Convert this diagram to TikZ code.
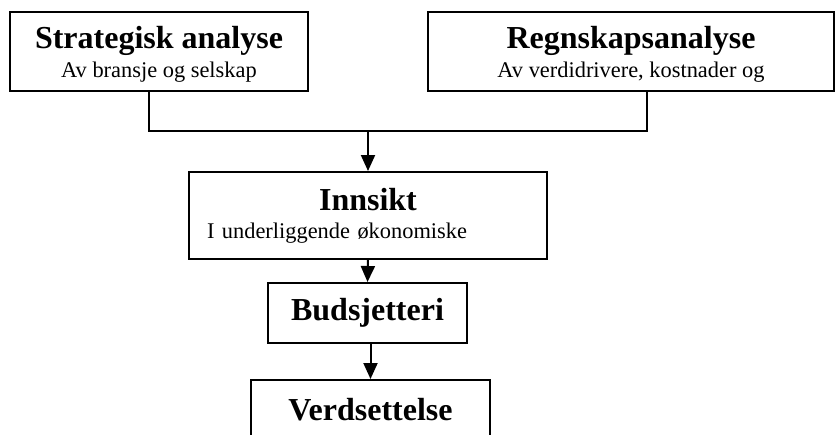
\documentclass[tikz,border=0pt]{standalone}
\usepackage{fontspec}
\setmainfont{Liberation Serif}
\usetikzlibrary{arrows.meta}

\newcommand{\titlefont}{\bfseries\fontsize{32}{28}\selectfont}
\newcommand{\subfont}{\fontsize{22.4}{28}\selectfont}

\begin{document}
\begin{tikzpicture}[x=1pt, y=-1pt, line width=2pt,
    box/.style={draw, inner sep=0pt, align=center, font=\subfont},
    arrow/.style={-{Triangle[length=16pt,width=14pt]}}]
    \clip (0,0) rectangle (835,434);
    \node[box, minimum width=298pt, minimum height=79pt] (strat) at (159,51.5)
        {\rule{0pt}{28pt}{\titlefont Strategisk analyse}\\[1pt]Av bransje og selskap};
    \node[box, minimum width=406pt, minimum height=79pt] (regn) at (631,51.5)
        {\rule{0pt}{28pt}{\titlefont Regnskapsanalyse}\\[1pt]Av verdidrivere, kostnader og};
    \node[box, minimum width=358pt, minimum height=87pt, text width=322pt, align=left] (innsikt) at (368,215.5)
        {\makebox[\linewidth]{\titlefont Innsikt}\\I underliggende økonomiske};
    \node[box, minimum width=199pt, minimum height=60pt] (budsj) at (367.5,313)
        {\titlefont Budsjetteri};
    \node[box, minimum width=239pt, minimum height=60pt] (verd) at (370.5,410)
        {\titlefont Verdsettelse};
    \coordinate (join) at (368,131);
    \draw ([xshift=-10pt]strat.south) |- (join) -| ([xshift=16pt]regn.south);
    \draw[arrow] (join) -- (innsikt.north);
    \draw[arrow] (innsikt.south) -- (budsj.north);
    \draw[arrow] (budsj.south -| verd.north) -- (verd.north);
\end{tikzpicture}
\end{document}
